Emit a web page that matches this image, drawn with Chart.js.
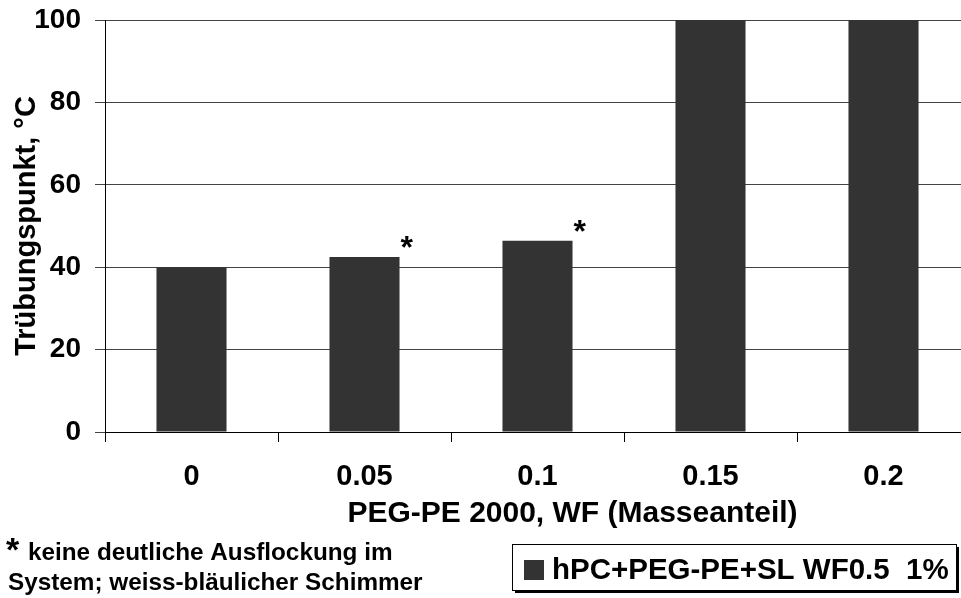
<!DOCTYPE html>
<html>
<head>
<meta charset="utf-8">
<script src="https://cdn.jsdelivr.net/npm/chart.js@4"></script>
<style>
  html, body { margin: 0; padding: 0; background: #fff; overflow: hidden; }
  #wrap { width: 980px; height: 598px; }
</style>
</head>
<body>
<div id="wrap"><canvas id="chart" width="980" height="598"></canvas></div>
<script>
const categories = ["0", "0.05", "0.1", "0.15", "0.2"];
const cloudPoint = [40, 42.5, 46.4, 100, 100];
const markers = ["", "*", "*", "", ""];
const seriesLabel = "hPC+PEG-PE+SL WF0.5  1%";
const xTitle = "PEG-PE 2000, WF (Masseanteil)";
const yTitle = "Trübungspunkt, °C";
const footnote = ["keine deutliche Ausflockung im", "System; weiss-bläulicher Schimmer"];

const FONT = "'Liberation Sans', Arial, sans-serif";
const barColor = "#333333";

// stars, x title, footnote and the boxed legend
const extras = {
    id: "extras",
    afterDraw: (chart) => {
        const ctx = chart.ctx;
        const area = chart.chartArea;
        const bars = chart.getDatasetMeta(0).data;
        ctx.save();
        ctx.fillStyle = "#000";

        ctx.font = "bold 32px " + FONT;
        ctx.textAlign = "left";
        ctx.textBaseline = "alphabetic";
        bars.forEach((bar, i) => {
            if (markers[i]) ctx.fillText(markers[i], bar.x + bar.width / 2 + 1, bar.y + 1);
        });

        ctx.font = "bold 30px " + FONT;
        ctx.textAlign = "center";
        ctx.fillText(xTitle, (area.left + area.right) / 2 + 35, 522);

        ctx.textAlign = "left";
        ctx.font = "bold 34px " + FONT;
        ctx.fillText("*", 6, 561);
        ctx.font = "bold 24.3px " + FONT;
        ctx.fillText(footnote[0], 28, 560);
        ctx.fillText(footnote[1], 8, 590);

        // legend box with shadow
        const bx = 512, by = 544, bw = 444, bh = 46;
        ctx.fillStyle = "#000";
        ctx.fillRect(bx + 3, by + 3, bw, bh);
        ctx.fillStyle = "#fff";
        ctx.fillRect(bx, by, bw, bh);
        ctx.strokeStyle = "#000";
        ctx.lineWidth = 1;
        ctx.strokeRect(bx + 0.5, by + 0.5, bw, bh);
        ctx.fillStyle = barColor;
        ctx.fillRect(bx + 12, by + 16, 20, 20);
        ctx.fillStyle = "#000";
        ctx.font = "bold 29.5px " + FONT;
        ctx.fillText(seriesLabel, bx + 40, by + 35);
        ctx.restore();
    }
};

new Chart(document.getElementById("chart").getContext("2d"), {
    type: "bar",
    data: {
        labels: categories,
        datasets: [{
            label: seriesLabel,
            data: cloudPoint,
            backgroundColor: barColor,
            borderWidth: 0,
            barPercentage: 0.405,
            categoryPercentage: 1,
        }],
    },
    options: {
        responsive: false,
        animation: false,
        devicePixelRatio: 1,
        layout: { padding: { top: 20, right: 10, bottom: 76, left: 0 } },
        plugins: {
            legend: { display: false },
            tooltip: { enabled: false },
        },
        scales: {
            x: {
                afterFit: (scale) => { scale.height = 90; },
                offset: true,
                grid: {
                    offset: true,
                    drawOnChartArea: false,
                    drawTicks: true,
                    tickLength: 10,
                    color: "#000",
                },
                border: { color: "#000", width: 1 },
                ticks: {
                    color: "#000",
                    padding: 18,
                    font: { family: FONT, size: 29, weight: "bold" },
                },
            },
            y: {
                min: 0,
                max: 100,
                afterFit: (scale) => {
                    scale.width = 105;
                    scale.paddingTop = 0;
                    scale.paddingBottom = 0;
                },
                grid: {
                    color: "#444",
                    tickLength: 10,
                },
                border: { color: "#000", width: 1 },
                ticks: {
                    stepSize: 20,
                    color: "#000",
                    padding: 14,
                    font: { family: FONT, size: 28, weight: "bold" },
                },
                title: {
                    display: true,
                    text: yTitle,
                    color: "#000",
                    padding: { top: 10, bottom: 0 },
                    font: { family: FONT, size: 29, weight: "bold" },
                },
            },
        },
    },
    plugins: [extras],
});
</script>
</body>
</html>
